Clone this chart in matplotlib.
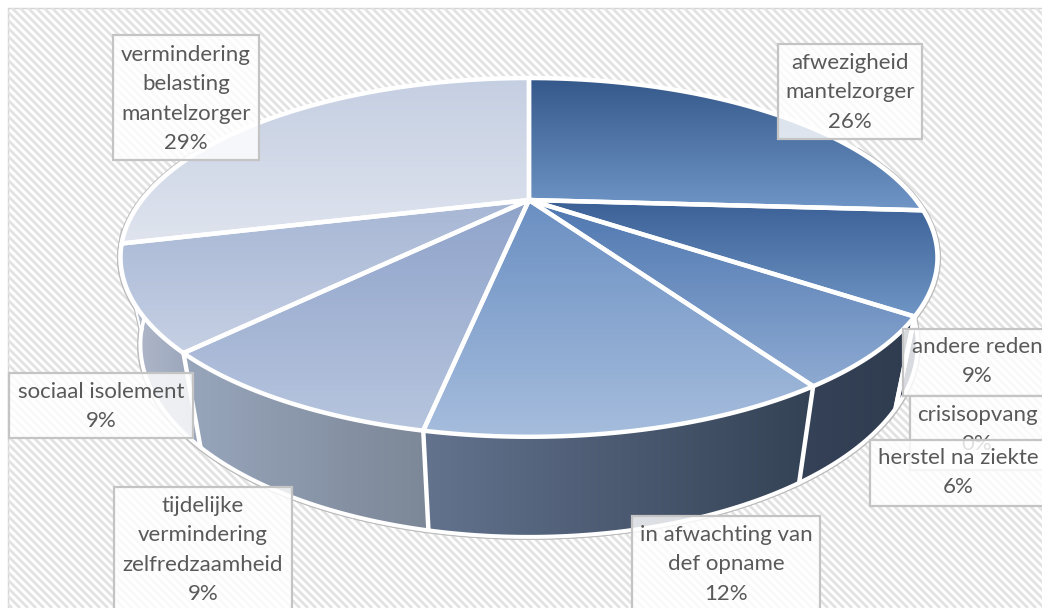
#!/usr/bin/env python
"""Perspective pie chart of reasons for respite care, with hatched background."""

import numpy as np
import matplotlib

matplotlib.use("Agg")
import matplotlib.pyplot as plt
from matplotlib.collections import LineCollection
from matplotlib.colors import LinearSegmentedColormap
from matplotlib.patches import PathPatch, Rectangle
from matplotlib.path import Path

labels = [
    "afwezigheid\nmantelzorger",
    "andere reden",
    "crisisopvang",
    "herstel na ziekte",
    "in afwachting van\ndef opname",
    "tijdelijke\nvermindering\nzelfredzaamheid",
    "sociaal isolement",
    "vermindering\nbelasting\nmantelzorger",
]
values = [26, 9, 0, 6, 12, 9, 9, 29]

top_colors = [
    ("#34588a", "#6f96c6"),
    ("#3a6096", "#7096c6"),
    ("#3a6096", "#7096c6"),
    ("#4e77b0", "#8eaad2"),
    ("#6a8fc2", "#a6bddd"),
    ("#8fa3ca", "#b7c5de"),
    ("#a6b6d4", "#c6d0e4"),
    ("#c5cfe2", "#dfe4ee"),
]
wall_colors = [
    ("#2a3e5e", "#1f3048"),
    ("#2c3c56", "#243349"),
    ("#2c3c56", "#243349"),
    ("#364258", "#2f3b4e"),
    ("#63738e", "#344255"),
    ("#98a6bc", "#7c8797"),
    ("#b4bccd", "#98a3b9"),
    ("#b4bccd", "#b4bccd"),
]

# label box: left, top, right, bottom, text centre x, first line y
boxes = [
    (778, 44, 922, 139, 850, 63),
    (903, 329, 1050, 396, 977, 347),
    (910, 396, 1050, 470, 977, 415),
    (870, 440, 1050, 506, 958, 458),
    (632, 516, 820, 620, 726, 535),
    (114, 487, 292, 620, 203, 506),
    (9, 373, 193, 438, 101, 392),
    (113, 35, 259, 160, 186, 55),
]
line_step = 29.3

# projection of the unit disc
CX, K = 529, 0.32
TOP = (387, 161, 200)
BOTTOM = (368, 172.5, 283)


def project(theta, plane, r=1.0):
    a, b, cy = plane
    x = r * np.sin(theta)
    y = -r * np.cos(theta)
    den = 1 - K * y
    return np.column_stack([CX + a * x / den, cy + b * y / den])


def gradient_fill(ax, verts, colors, horizontal, zorder):
    x0, y0 = verts.min(axis=0)
    x1, y1 = verts.max(axis=0)
    cmap = LinearSegmentedColormap.from_list("g", colors)
    ramp = np.linspace(0, 1, 256)
    img = ramp[None, :] if horizontal else ramp[:, None]
    im = ax.imshow(img, extent=(x0, x1, y1, y0), cmap=cmap, aspect="auto", zorder=zorder)
    clip = PathPatch(Path(verts), transform=ax.transData, fc="none", ec="none")
    ax.add_patch(clip)
    im.set_clip_path(clip)


plt.rcParams["font.family"] = ["Lato", "DejaVu Sans"]
fig = plt.figure(figsize=(10.42, 6.08), dpi=100)
ax = fig.add_axes([0, 0, 1, 1])
ax.axis("off")

# hatched background
ax.add_patch(Rectangle((8, 8), 1100, 700, fc="white", ec="#d4d4d4", lw=1, zorder=0))
offsets = np.arange(-620, 1100, 8.0)
hatch = LineCollection(
    [[(o, 8), (o + 600, 608)] for o in offsets], colors="#e2e2e2", linewidths=2.0, zorder=0.5
)
ax.add_collection(hatch)
hatch.set_clip_path(Rectangle((8, 8), 1100, 700, transform=ax.transData))

edges = np.radians(np.cumsum([0] + values) * 3.6)
slices = [i for i, v in enumerate(values) if v > 0]

# walls: only the part of each slice that faces the viewer
walls = []
for i in slices:
    theta = np.linspace(edges[i], edges[i + 1], 80)
    theta = theta[np.cos(theta) < 0.35]
    if len(theta) > 1:
        verts = np.vstack([project(theta, TOP), project(theta, BOTTOM)[::-1]])
        walls.append((i, theta, verts))

# thin grey outline of the whole body, below the white rim
circle = np.linspace(0, 2 * np.pi, 400)
for plane in (BOTTOM, TOP):
    ax.fill(*project(circle, plane, 1.006).T, fc="white", ec="#bdbdbd", lw=1.2, zorder=1)
for i, theta, verts in walls:
    ax.add_patch(PathPatch(Path(verts, closed=False), fc="white", ec="#bdbdbd", lw=4.6, zorder=1.1))
for i, theta, verts in walls:
    ax.add_patch(PathPatch(Path(verts, closed=False), fc="none", ec="white", lw=3.0, zorder=1.2))
for i, theta, verts in walls:
    gradient_fill(ax, verts, wall_colors[i], True, 2 + 0.01 * i)

# white bottom rim and the seams between the visible walls
for i, theta, verts in walls:
    ax.plot(*project(theta, BOTTOM).T, color="white", lw=2.6, zorder=2.5)
for edge in edges:
    if np.radians(100) < edge < np.radians(250):
        seam = np.vstack([project(np.array([edge]), TOP), project(np.array([edge]), BOTTOM)])
        ax.plot(*seam.T, color="white", lw=3.2, zorder=2.5, solid_capstyle="butt")

# top faces
for i in slices:
    theta = np.linspace(edges[i], edges[i + 1], 120)
    verts = np.vstack([[[CX, TOP[2]]], project(theta, TOP), [[CX, TOP[2]]]])
    gradient_fill(ax, verts, top_colors[i], False, 3)
for i in slices:
    theta = np.linspace(edges[i], edges[i + 1], 120)
    verts = np.vstack([[[CX, TOP[2]]], project(theta, TOP), [[CX, TOP[2]]]])
    ax.add_patch(PathPatch(Path(verts), fc="none", ec="white", lw=3.2, zorder=3.5, joinstyle="round"))

# data labels
for i, box in enumerate(boxes):
    left, top, right, bottom, tx, ty = box
    z = 5 + i * 0.1
    ax.add_patch(Rectangle((left, top), right - left, bottom - top, fc=(1, 1, 1, 0.82),
                           ec="#c4c4c4", lw=1.6, zorder=z))
    lines = labels[i].split("\n") + [f"{values[i]}%"]
    for j, line in enumerate(lines):
        ax.text(tx, ty + j * line_step, line, ha="center", va="center", fontsize=16,
                color="#595959", zorder=z + 0.01)

ax.set_xlim(0, 1042)
ax.set_ylim(608, 0)
fig.savefig("out.png", dpi=100)
